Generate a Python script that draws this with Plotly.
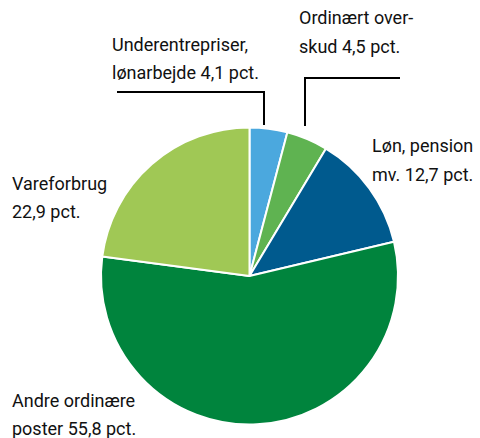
import plotly.graph_objects as go

labels = ["Underentrepriser, lønarbejde", "Ordinært overskud", "Løn, pension mv.",
          "Andre ordinære poster", "Vareforbrug"]
values = [4.1, 4.5, 12.7, 55.8, 22.9]
colors = ["#4ba8de", "#5fb351", "#005a8e", "#00843d", "#a0c855"]

label_lines = [
    ["Underentrepriser,", "lønarbejde 4,1 pct."],
    ["Ordinært over-", "skud 4,5 pct."],
    ["Løn, pension", "mv. 12,7 pct."],
    ["Vareforbrug", "22,9 pct."],
    ["Andre ordinære", "poster 55,8 pct."],
]
label_pos = [(112, 44), (299, 18), (372, 146), (12, 183), (12, 400)]

W, H = 480, 438
def px(x): return x / W
def py(y): return 1 - y / H

fig = go.Figure(go.Pie(
    labels=labels, values=values, sort=False, direction="clockwise", rotation=0,
    marker=dict(colors=colors, line=dict(color="white", width=2)),
    textinfo="none", hoverinfo="label+percent",
    domain=dict(x=[px(101), px(398)], y=[py(425), py(127)]),
))

ann = []
for lines, (x0, y0) in zip(label_lines, label_pos):
    for i, t in enumerate(lines):
        ann.append(dict(text=t, x=px(x0 - 2), y=py(y0 + i * 28), xref="paper", yref="paper",
                        xanchor="left", yanchor="middle", showarrow=False,
                        font=dict(family="Roboto", size=18, color="#111111")))

line_style = dict(color="black", width=2)
shapes = [
    dict(type="line", xref="paper", yref="paper", x0=px(117), y0=py(92), x1=px(264), y1=py(92), line=line_style),
    dict(type="line", xref="paper", yref="paper", x0=px(264), y0=py(91), x1=px(264), y1=py(125), line=line_style),
    dict(type="line", xref="paper", yref="paper", x0=px(305), y0=py(126), x1=px(305), y1=py(77), line=line_style),
    dict(type="line", xref="paper", yref="paper", x0=px(304), y0=py(78), x1=px(400), y1=py(78), line=line_style),
]

fig.update_layout(width=W, height=H, margin=dict(l=0, r=0, t=0, b=0),
                  showlegend=False, paper_bgcolor="white", annotations=ann, shapes=shapes)
fig.write_html("out.html", config={"displayModeBar": False},
               post_script="document.body.style.margin='0';document.body.style.padding='0';")
